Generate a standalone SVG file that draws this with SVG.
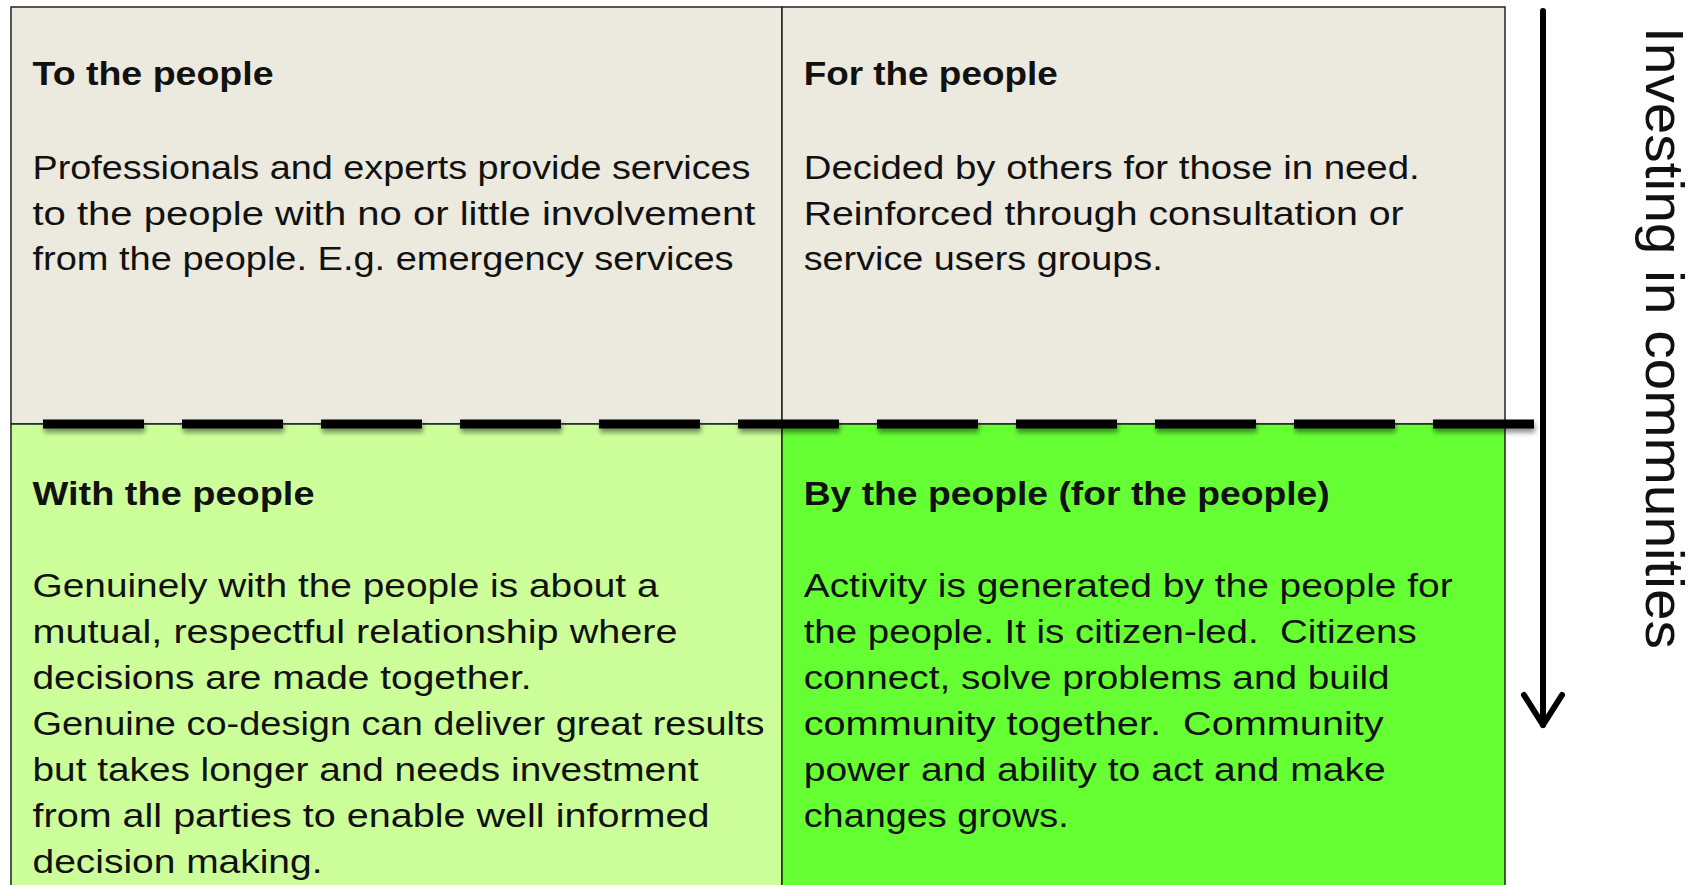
<svg xmlns="http://www.w3.org/2000/svg" width="1701" height="885" viewBox="0 0 1701 885">
<style>
.t{font-family:"Liberation Sans",Arial,sans-serif;font-size:34px;fill:#111;}
.b{font-weight:bold;}
.cell{stroke:#222;stroke-width:1.5;}
</style>
<defs>
<filter id="sh" filterUnits="userSpaceOnUse" x="0" y="400" width="1600" height="60">
<feGaussianBlur in="SourceAlpha" stdDeviation="2.5"/>
<feOffset dx="1" dy="4"/>
<feComponentTransfer><feFuncA type="linear" slope="0.45"/></feComponentTransfer>
<feMerge><feMergeNode/><feMergeNode in="SourceGraphic"/></feMerge>
</filter>
</defs>
<rect width="1701" height="885" fill="#fff"/>
<g id="cell-to">
<rect class="cell" x="11" y="7" width="771" height="417" fill="#ECE9DF"/>
<text class="t b" x="32.5" y="85" textLength="241" lengthAdjust="spacingAndGlyphs">To the people</text>
<text class="t" x="32.5" y="179" textLength="718" lengthAdjust="spacingAndGlyphs">Professionals and experts provide services</text>
<text class="t" x="32.5" y="225" textLength="723" lengthAdjust="spacingAndGlyphs">to the people with no or little involvement</text>
<text class="t" x="32.5" y="270" textLength="701" lengthAdjust="spacingAndGlyphs">from the people. E.g. emergency services</text>
</g>
<g id="cell-for">
<rect class="cell" x="782" y="7" width="723" height="417" fill="#ECE9DF"/>
<text class="t b" x="803.7" y="85" textLength="254" lengthAdjust="spacingAndGlyphs">For the people</text>
<text class="t" x="803.7" y="179" textLength="616" lengthAdjust="spacingAndGlyphs">Decided by others for those in need.</text>
<text class="t" x="803.7" y="225" textLength="600" lengthAdjust="spacingAndGlyphs">Reinforced through consultation or</text>
<text class="t" x="803.7" y="270" textLength="359" lengthAdjust="spacingAndGlyphs">service users groups.</text>
</g>
<g id="cell-with">
<rect class="cell" x="11" y="424" width="771" height="470" fill="#CCFF99"/>
<text class="t b" x="32.5" y="505" textLength="282" lengthAdjust="spacingAndGlyphs">With the people</text>
<text class="t" x="32.5" y="597" textLength="626" lengthAdjust="spacingAndGlyphs">Genuinely with the people is about a</text>
<text class="t" x="32.5" y="643" textLength="645" lengthAdjust="spacingAndGlyphs">mutual, respectful relationship where</text>
<text class="t" x="32.5" y="689" textLength="499" lengthAdjust="spacingAndGlyphs">decisions are made together.</text>
<text class="t" x="32.5" y="735" textLength="732" lengthAdjust="spacingAndGlyphs">Genuine co-design can deliver great results</text>
<text class="t" x="32.5" y="781" textLength="666" lengthAdjust="spacingAndGlyphs">but takes longer and needs investment</text>
<text class="t" x="32.5" y="827" textLength="677" lengthAdjust="spacingAndGlyphs">from all parties to enable well informed</text>
<text class="t" x="32.5" y="873" textLength="290" lengthAdjust="spacingAndGlyphs">decision making.</text>
</g>
<g id="cell-by">
<rect class="cell" x="782" y="424" width="723" height="470" fill="#66FF33"/>
<text class="t b" x="803.7" y="505" textLength="526" lengthAdjust="spacingAndGlyphs">By the people (for the people)</text>
<text class="t" x="803.7" y="597" textLength="649" lengthAdjust="spacingAndGlyphs">Activity is generated by the people for</text>
<text class="t" x="803.7" y="643" textLength="613" lengthAdjust="spacingAndGlyphs" xml:space="preserve">the people. It is citizen-led.  Citizens</text>
<text class="t" x="803.7" y="689" textLength="586" lengthAdjust="spacingAndGlyphs">connect, solve problems and build</text>
<text class="t" x="803.7" y="735" textLength="580" lengthAdjust="spacingAndGlyphs" xml:space="preserve">community together.  Community</text>
<text class="t" x="803.7" y="781" textLength="582" lengthAdjust="spacingAndGlyphs">power and ability to act and make</text>
<text class="t" x="803.7" y="827" textLength="265" lengthAdjust="spacingAndGlyphs">changes grows.</text>
</g>
<g id="connectors">
<line id="divider" x1="43" y1="424" x2="1534" y2="424" stroke="#000" stroke-width="9" stroke-dasharray="101 38" filter="url(#sh)"/>
<g id="arrow" stroke="#000" stroke-width="6" fill="none" stroke-linecap="round" stroke-linejoin="round">
<line x1="1543" y1="11" x2="1543" y2="725"/>
<polyline points="1524,695 1543,725 1562,695"/>
</g>
</g>
<g id="axis-label">
<text class="t" transform="translate(1646,27) rotate(90)" x="0" y="0" style="font-size:54px" textLength="622" lengthAdjust="spacingAndGlyphs">Investing in communities</text>
</g>
</svg>
